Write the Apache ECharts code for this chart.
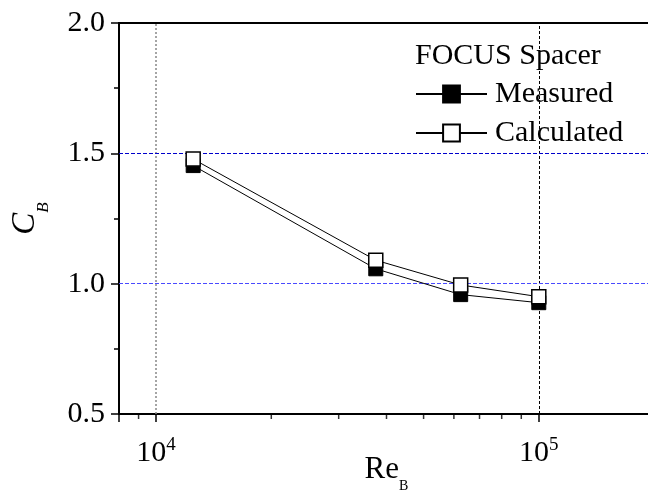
<!DOCTYPE html>
<html>
<head>
    <meta charset="utf-8">
    <title>FOCUS Spacer C_B vs Re_B</title>
    <script src="https://cdn.jsdelivr.net/npm/echarts@6/dist/echarts.min.js"></script>
    <style>
        body { margin: 0; background: #fff; }
    </style>
</head>
<body>
    <div id="main" style="width: 648px;height:496px;"></div>
    <script type="text/javascript">
        // data
        const reB = [12500, 37500, 62500, 100000];
        const measured = [1.453, 1.057, 0.958, 0.927];
        const calculated = [1.478, 1.090, 0.995, 0.950];

        // ticks
        const xMajorTicks = [10000, 100000];
        const xTickExponents = ['4', '5'];
        const xMinorTicks = [9000, 20000, 30000, 40000, 50000, 60000, 70000, 80000, 90000];
        const yTicks = [0.5, 1.0, 1.5, 2.0];
        // reference lines
        const yRefLines = [1.0, 1.5];
        const yRefColors = ['#4a4aff', '#0000cc'];

        const serif = 'Liberation Serif';

        var myChart = echarts.init(document.getElementById('main'));

        // one markLine host per line style
        function refLine(items, style) {
            return {
                silent: true,
                symbol: 'none',
                z: 1,
                label: { show: false },
                emphasis: { disabled: true },
                lineStyle: style,
                data: items
            };
        }

        var option = {
            backgroundColor: '#fff',
            animation: false,
            title: {
                text: 'FOCUS Spacer',
                left: 415,
                top: 41,
                padding: 0,
                textStyle: { fontFamily: serif, fontSize: 30, fontWeight: 'normal', color: '#000', lineHeight: 30 }
            },
            legend: {
                data: ['Measured', 'Calculated'],
                orient: 'vertical',
                left: 415,
                top: 79,
                padding: 0,
                itemWidth: 71,
                itemHeight: 21,
                itemGap: 9,
                textStyle: { fontFamily: serif, fontSize: 30, color: '#000', padding: [0, 0, 0, 3] }
            },
            grid: {
                left: 119,
                right: -6,
                top: 23,
                bottom: 82,
                show: true,
                borderColor: '#000',
                borderWidth: 2,
                containLabel: false,
                outerBoundsMode: 'none'
            },
            xAxis: {
                type: 'log',
                logBase: 10,
                min: 8000,
                max: 200000,
                name: '{r|Re}{s|B}',
                nameLocation: 'middle',
                nameGap: 40,
                nameMoveOverlap: false,
                nameTextStyle: {
                    rich: {
                        r: { fontFamily: serif, fontSize: 31, lineHeight: 31, color: '#000' },
                        s: { fontFamily: serif, fontSize: 14, lineHeight: 14, padding: [34, 0, 0, 0], color: '#000' }
                    }
                },
                axisLine: { show: true, lineStyle: { color: '#000', width: 2 } },
                axisTick: { show: true, inside: false, length: 8, lineStyle: { color: '#000', width: 1.5 } },
                axisLabel: {
                    margin: 22,
                    formatter: function (v) {
                        const i = xMajorTicks.findIndex(t => Math.abs(t - v) / t < 1e-6);
                        if (i < 0) return '';
                        return '{b|10}{s|' + xTickExponents[i] + '}';
                    },
                    rich: {
                        b: { fontFamily: serif, fontSize: 30, lineHeight: 34, color: '#000' },
                        s: { fontFamily: serif, fontSize: 19, lineHeight: 19, verticalAlign: 'top', color: '#000' }
                    }
                },
                splitLine: { show: false }
            },
            yAxis: {
                type: 'value',
                min: yTicks[0],
                max: yTicks[yTicks.length - 1],
                interval: 0.5,
                name: '{c|C}{b|B}',
                nameLocation: 'middle',
                nameGap: 77,
                nameMoveOverlap: false,
                nameTextStyle: {
                    rich: {
                        c: { fontFamily: serif, fontStyle: 'italic', fontSize: 33, lineHeight: 33, color: '#000' },
                        b: { fontFamily: serif, fontStyle: 'italic', fontSize: 17, lineHeight: 17, padding: [37, 0, 0, 0], color: '#000' }
                    }
                },
                axisLine: { show: true, lineStyle: { color: '#000', width: 2 } },
                axisTick: { show: true, inside: false, length: 8, lineStyle: { color: '#000', width: 1.5 } },
                minorTick: { show: true, splitNumber: 2, length: 5, lineStyle: { color: '#000', width: 1.5 } },
                axisLabel: {
                    margin: 14,
                    fontFamily: serif,
                    fontSize: 30,
                    color: '#000',
                    formatter: v => v.toFixed(1)
                },
                splitLine: { show: false }
            },
            series: [
                {
                    name: 'Measured',
                    type: 'line',
                    data: reB.map((x, i) => [x, measured[i]]),
                    symbol: 'rect',
                    symbolSize: 14,
                    showAllSymbol: true,
                    itemStyle: { color: '#000', borderColor: '#000', borderWidth: 1 },
                    lineStyle: { color: '#000', width: 1 },
                    z: 3,
                    markLine: refLine([{ xAxis: xMajorTicks[0] }], { color: '#888', type: [2, 2], width: 1.5 })
                },
                {
                    name: 'Calculated',
                    type: 'line',
                    data: reB.map((x, i) => [x, calculated[i]]),
                    symbol: 'rect',
                    symbolSize: 14,
                    showAllSymbol: true,
                    itemStyle: { color: '#fff', borderColor: '#000', borderWidth: 1.5 },
                    lineStyle: { color: '#000', width: 1 },
                    z: 4,
                    markLine: refLine([{ xAxis: xMajorTicks[1] }], { color: '#000', type: [3, 2], width: 1 })
                },
                {
                    // minor ticks of the log axis, plus the blue reference lines
                    name: 'minorTicks',
                    type: 'scatter',
                    data: xMinorTicks.map(x => [x, yTicks[0]]),
                    symbol: 'rect',
                    symbolSize: [1.5, 4],
                    symbolOffset: [0, 3],
                    itemStyle: { color: '#000' },
                    clip: false,
                    silent: true,
                    z: 10,
                    markLine: refLine(
                        yRefLines.map((v, i) => ({ yAxis: v, lineStyle: { color: yRefColors[i] } })),
                        { color: '#0000cc', type: [4, 2], width: 1 }
                    )
                }
            ]
        };

        myChart.setOption(option);
    </script>
</body>
</html>
